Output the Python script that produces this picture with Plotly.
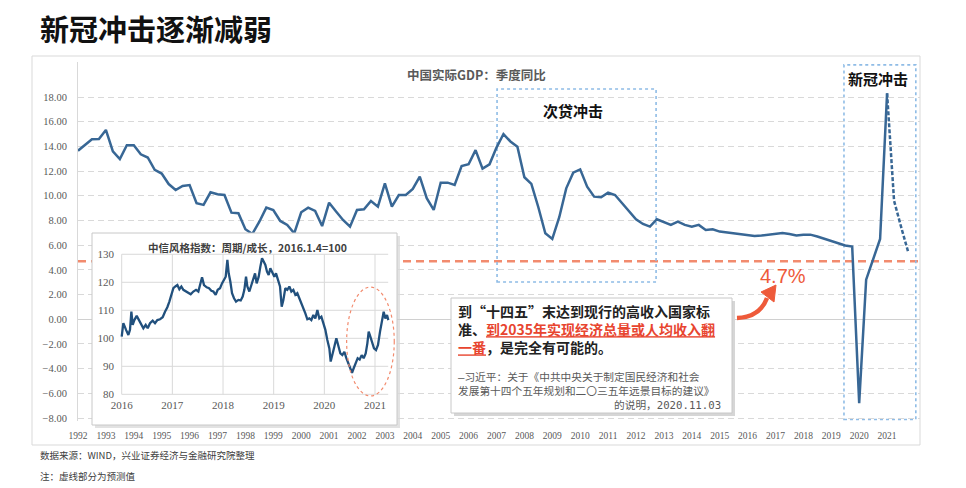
import plotly.graph_objects as go
import pandas as pd

# ---------------- data ----------------
gdp_start_quarter = "1992Q1"
gdp_actual = [
    13.65, 14.1, 14.57, 14.6, 15.33, 13.6, 12.98, 14.1, 14.1, 13.36, 13.1, 12.1,
    11.8, 10.95, 10.47, 10.8, 10.87, 9.4, 9.26, 10.28, 10.12, 10.06, 8.63, 8.58,
    7.29, 6.91, 7.9, 9.04, 8.85, 7.96, 7.64, 6.96, 8.66, 9.04, 8.77, 7.55,
    9.44, 8.72, 8.04, 7.5, 8.85, 8.9, 9.58, 9.12, 11.0, 9.12, 10.06, 10.06,
    10.55, 11.55, 9.8, 8.85, 11.06, 11.06, 10.87, 12.41, 12.55, 13.7, 12.2, 12.55,
    13.9, 15.0, 14.4, 13.98, 11.5, 10.96, 9.07, 6.96, 6.5, 8.26, 10.6, 11.87,
    12.14, 10.74, 9.93, 9.88, 10.25, 10.06, 9.39, 8.8, 8.1, 7.72, 7.5, 8.1,
    7.9, 7.64, 7.9, 7.64, 7.5, 7.64, 7.23, 7.29, 7.1, 7.02, 6.96, 6.85,
    6.83, 6.75, 6.78, 6.85, 6.95, 6.98, 6.9, 6.78, 6.85, 6.85, 6.7, 6.52,
    6.35, 6.15, 5.97, 5.88, -6.8, 3.2, 4.9, 6.5, 18.3,
]
gdp_forecast = [18.3, 9.6, 7.5, 5.5]          # starts at the last actual quarter
year_ticks = list(range(1992, 2022))
gdp_y_ticks = list(range(-8, 19, 2))
target_growth = 4.7

inset_year = [
    2016.0, 2016.033, 2016.086, 2016.132, 2016.164, 2016.191, 2016.217, 2016.25, 2016.296, 2016.342,
    2016.382, 2016.428, 2016.474, 2016.513, 2016.559, 2016.612, 2016.658, 2016.704, 2016.757, 2016.809,
    2016.855, 2016.901, 2016.941, 2016.987, 2017.02, 2017.059, 2017.099, 2017.138, 2017.178, 2017.217,
    2017.27, 2017.316, 2017.362, 2017.414, 2017.467, 2017.513, 2017.546, 2017.586, 2017.625, 2017.678,
    2017.724, 2017.77, 2017.809, 2017.855, 2017.895, 2017.941, 2017.98, 2018.02, 2018.053, 2018.086,
    2018.112, 2018.145, 2018.178, 2018.217, 2018.257, 2018.303, 2018.349, 2018.388, 2018.421, 2018.454,
    2018.48, 2018.52, 2018.559, 2018.599, 2018.632, 2018.664, 2018.704, 2018.737, 2018.77, 2018.803,
    2018.836, 2018.868, 2018.901, 2018.934, 2018.974, 2019.013, 2019.046, 2019.086, 2019.125, 2019.158,
    2019.191, 2019.23, 2019.27, 2019.309, 2019.349, 2019.388, 2019.428, 2019.467, 2019.507, 2019.546,
    2019.586, 2019.625, 2019.664, 2019.704, 2019.743, 2019.783, 2019.822, 2019.862, 2019.901, 2019.941,
    2019.98, 2020.02, 2020.059, 2020.099, 2020.125, 2020.158, 2020.197, 2020.237, 2020.276, 2020.316,
    2020.355, 2020.395, 2020.434, 2020.474, 2020.513, 2020.546, 2020.579, 2020.618, 2020.658, 2020.697,
    2020.737, 2020.776, 2020.816, 2020.849, 2020.875, 2020.908, 2020.941, 2020.98, 2021.02, 2021.059,
    2021.099, 2021.138, 2021.171, 2021.204, 2021.237, 2021.263,
]
inset_value = [
    100.6, 105.4, 103.0, 101.2, 103.0, 109.5, 104.8, 106.5, 108.0, 106.5,
    104.8, 103.6, 104.8, 103.6, 105.4, 106.3, 105.4, 106.5, 106.8, 107.5,
    109.5, 111.1, 113.1, 115.5, 117.9, 118.5, 119.0, 117.5, 118.5, 117.3,
    116.7, 116.1, 115.7, 116.7, 117.3, 116.7, 119.6, 121.8, 119.0, 118.2,
    117.9, 117.0, 116.7, 115.5, 117.3, 117.9, 119.6, 120.8, 122.0, 128.0,
    123.2, 120.2, 116.1, 114.3, 113.1, 113.7, 113.5, 114.9, 117.3, 122.0,
    118.5, 116.7, 119.0, 120.8, 123.2, 119.6, 122.0, 125.6, 128.6, 127.4,
    126.2, 123.8, 122.6, 125.0, 123.2, 122.0, 123.2, 120.8, 118.5, 111.3,
    113.7, 117.9, 117.3, 118.5, 116.7, 117.3, 115.5, 116.1, 114.3, 113.1,
    111.3, 108.9, 106.8, 107.1, 106.5, 108.3, 107.1, 110.1, 107.1, 107.7,
    105.4, 103.0, 99.4, 96.4, 91.7, 94.6, 97.0, 100.0, 97.6, 94.6,
    94.0, 95.2, 92.9, 91.1, 89.3, 87.7, 89.3, 91.1, 92.9, 92.4,
    94.0, 92.9, 94.6, 98.2, 102.4, 100.6, 98.2, 96.4, 95.8, 97.6,
    102.4, 106.5, 109.5, 107.1, 108.3, 106.5,
]
inset_year_ticks = [2016, 2017, 2018, 2019, 2020, 2021]
inset_y_ticks = [80, 90, 100, 110, 120, 130]

# quarterly x positions (decimal years)
n_q = len(gdp_actual) + len(gdp_forecast) - 1
periods = pd.period_range(gdp_start_quarter, periods=n_q, freq="Q")
xq = [p.year + (p.quarter - 1) / 4 for p in periods]
x_actual = xq[:len(gdp_actual)]
x_fc = xq[len(gdp_actual) - 1:]

# ---------------- layout helpers (page pixel -> paper) ----------------
PAGE_OFF = 8                      # default body margin of the html page
W, H = 958, 480
ML, MR, MT, MB = 24, 46, 48, 40
PW, PH = W - ML - MR, H - MT - MB


def px(x):
    return (x - PAGE_OFF - ML) / PW


def py(y):
    return (H - MB - (y - PAGE_OFF)) / PH


CJK = "Noto Sans CJK SC"
SERIF = "Liberation Serif"
LINE_BLUE = "#386795"
RED = "#ee5a3a"
SALMON = "#f28b6e"
BOX_BLUE = "#8fbce6"
GRID = "#d9d9d9"

fig = go.Figure()

fig.add_trace(go.Scatter(x=x_actual, y=gdp_actual, mode="lines",
                         line=dict(color=LINE_BLUE, width=2.5), xaxis="x", yaxis="y",
                         hoverinfo="skip"))
fig.add_trace(go.Scatter(x=x_fc, y=gdp_forecast, mode="lines",
                         line=dict(color=LINE_BLUE, width=2.5, dash="4px,2px"),
                         xaxis="x", yaxis="y", hoverinfo="skip"))
fig.add_trace(go.Scatter(x=inset_year, y=inset_value, mode="lines",
                         line=dict(color="#21507d", width=2.3), xaxis="x2", yaxis="y2",
                         hoverinfo="skip"))

shapes = []
# outer chart frame
shapes.append(dict(type="rect", xref="paper", yref="paper", x0=px(32), x1=px(920),
                   y0=py(445), y1=py(56), line=dict(color=GRID, width=1), layer="below"))
# 4.7% target line
shapes.append(dict(type="line", xref="paper", yref="y", x0=px(78), x1=px(920),
                   y0=target_growth, y1=target_growth,
                   line=dict(color=SALMON, width=2.5, dash="8px,5px"), layer="below"))
# highlight boxes
shapes.append(dict(type="rect", xref="x", yref="y", x0=2007.02, x1=2012.72, y0=3.02, y1=18.65,
                   line=dict(color=BOX_BLUE, width=1.6, dash="dot"), layer="below"))
shapes.append(dict(type="rect", xref="x", yref="y", x0=2019.455, x1=2022.03, y0=-8.12, y1=20.6,
                   line=dict(color=BOX_BLUE, width=1.6, dash="dot"), layer="below"))
# inset shadow
shapes.append(dict(type="rect", xref="paper", yref="paper", x0=px(95), x1=px(400),
                   y0=py(428), y1=py(236), fillcolor="#e2e2e2", line=dict(width=0), layer="below"))
# inset gridlines
for v in inset_y_ticks:
    shapes.append(dict(type="line", xref="x2", yref="y2", x0=inset_year_ticks[0], x1=2021.26,
                       y0=v, y1=v, line=dict(color=GRID, width=1), layer="below"))
for yr in inset_year_ticks:
    shapes.append(dict(type="line", xref="x2", yref="y2", x0=yr, x1=yr,
                       y0=inset_y_ticks[0], y1=inset_y_ticks[-1],
                       line=dict(color=GRID, width=1), layer="below"))
# inset frame
shapes.append(dict(type="rect", xref="paper", yref="paper", x0=px(92), x1=px(397),
                   y0=py(425), y1=py(233), line=dict(color="#c8c8c8", width=1), layer="above"))
# red ellipse on inset
shapes.append(dict(type="circle", xref="x2", yref="y2", x0=2020.44, x1=2021.38, y0=79.4, y1=118.3,
                   line=dict(color=SALMON, width=1.2, dash="dot"), layer="above"))
# quote box
shapes.append(dict(type="rect", xref="paper", yref="paper", x0=px(454), x1=px(735),
                   y0=py(416), y1=py(301), fillcolor="#d6d6d6", line=dict(width=0), layer="above"))
shapes.append(dict(type="rect", xref="paper", yref="paper", x0=px(451), x1=px(732),
                   y0=py(413), y1=py(298), fillcolor="white",
                   line=dict(color="#c8c8c8", width=1), layer="above"))
# curved arrow
shapes.append(dict(type="path", xref="paper", yref="paper",
                   path=f"M {px(737)},{py(318)} Q {px(760)},{py(317)} {px(767)},{py(298)}",
                   line=dict(color=RED, width=4.5), layer="above"))
shapes.append(dict(type="path", xref="paper", yref="paper",
                   path=f"M {px(776)},{py(285)} L {px(761)},{py(292)} L {px(774)},{py(302)} Z",
                   fillcolor=RED, line=dict(color=RED, width=1), layer="above"))

annotations = []
annotations.append(dict(xref="paper", yref="paper", x=px(38), y=py(28), xanchor="left",
                        yanchor="middle", showarrow=False, text="<b>新冠冲击逐渐减弱</b>",
                        font=dict(family=CJK, size=29, color="#111111")))
annotations.append(dict(xref="paper", yref="paper", x=px(476), y=py(75), xanchor="center",
                        yanchor="middle", showarrow=False, text="<b>中国实际GDP：季度同比</b>",
                        font=dict(family=CJK, size=12.5, color="#595959")))
annotations.append(dict(xref="paper", yref="paper", x=px(573), y=py(110), xanchor="center",
                        yanchor="middle", showarrow=False, text="<b>次贷冲击</b>",
                        font=dict(family=CJK, size=15, color="#111111")))
annotations.append(dict(xref="paper", yref="paper", x=px(878), y=py(78), xanchor="center",
                        yanchor="middle", showarrow=False, text="<b>新冠冲击</b>",
                        font=dict(family=CJK, size=15, color="#111111")))
annotations.append(dict(xref="paper", yref="paper", x=px(783), y=py(276), xanchor="center",
                        yanchor="middle", showarrow=False, text="4.7%",
                        font=dict(family="Liberation Sans", size=20, color=RED)))
annotations.append(dict(xref="paper", yref="paper", x=px(247), y=py(247), xanchor="center",
                        yanchor="middle", showarrow=False,
                        text="<b>中信风格指数：周期/成长，2016.1.4=100</b>",
                        font=dict(family=CJK, size=10.5, color="#404040")))
quote_main = ("到“十四五”末达到现行的高收入国家标<br>"
              "准、<span style='color:#e8452f'><u>到2035年实现经济总量或人均收入翻</u></span><br>"
              "<span style='color:#e8452f'><u>一番</u></span>，是完全有可能的。")
annotations.append(dict(xref="paper", yref="paper", x=px(456), y=py(299), xanchor="left",
                        yanchor="top", align="left", showarrow=False, text="<b>" + quote_main + "</b>",
                        font=dict(family=CJK, size=14, color="#222222")))
quote_src = ("—习近平：关于《中共中央关于制定国民经济和社会<br>"
             "发展第十四个五年规划和二〇三五年远景目标的建议》")
annotations.append(dict(xref="paper", yref="paper", x=px(456), y=py(369), xanchor="left",
                        yanchor="top", align="left", showarrow=False, text=quote_src,
                        font=dict(family="DejaVu Sans Mono, " + CJK, size=10.7, color="#595959")))
annotations.append(dict(xref="paper", yref="paper", x=px(723), y=py(405), xanchor="right",
                        yanchor="middle", align="right", showarrow=False, text="的说明，2020.11.03",
                        font=dict(family="DejaVu Sans Mono, " + CJK, size=10.7, color="#595959")))
annotations.append(dict(xref="paper", yref="paper", x=px(38), y=py(455), xanchor="left",
                        yanchor="middle", showarrow=False, text="数据来源：WIND，兴业证券经济与金融研究院整理",
                        font=dict(family=CJK, size=9.5, color="#404040")))
annotations.append(dict(xref="paper", yref="paper", x=px(38), y=py(476), xanchor="left",
                        yanchor="middle", showarrow=False, text="注：虚线部分为预测值",
                        font=dict(family=CJK, size=9.5, color="#404040")))

fig.update_layout(
    width=W, height=H,
    margin=dict(l=ML, r=MR, t=MT, b=MB, pad=0),
    paper_bgcolor="white", plot_bgcolor="white",
    showlegend=False,
    shapes=shapes, annotations=annotations,
    xaxis=dict(domain=[px(78), px(920)], range=[1992.0, 2022.18], anchor="y",
               tickmode="array", tickvals=year_ticks, ticktext=[str(y) for y in year_ticks],
               tickangle=0, showgrid=False, zeroline=False, showline=False, ticks="",
               ticklabelstandoff=7,
               tickfont=dict(family=SERIF, size=9.5, color="#595959")),
    yaxis=dict(domain=[py(421), py(62)], range=[-8.243, 20.835], anchor="x",
               tickmode="array", tickvals=gdp_y_ticks, tickformat=".2f",
               showgrid=True, gridcolor=GRID, gridwidth=1, griddash="6px,4px",
               zeroline=True, zerolinecolor="#d0d0d0", zerolinewidth=1,
               showline=True, linecolor=GRID, linewidth=1, ticks="",
               ticklabelstandoff=8,
               tickfont=dict(family=SERIF, size=10.5, color="#595959")),
    xaxis2=dict(domain=[px(92), px(397)], range=[2015.414, 2021.434], anchor="free",
                position=py(394), tickmode="array", tickvals=inset_year_ticks,
                ticktext=[str(y) for y in inset_year_ticks],
                showgrid=False, zeroline=False, showline=False, ticks="",
                ticklabelstandoff=3,
                tickfont=dict(family=SERIF, size=11, color="#595959")),
    yaxis2=dict(domain=[py(425), py(233)], range=[69.04, 137.6], anchor="free",
                position=px(122), tickmode="array", tickvals=inset_y_ticks,
                showgrid=False, zeroline=False, showline=False, ticks="",
                ticklabelstandoff=8,
                tickfont=dict(family=SERIF, size=11, color="#595959")),
)

fig.write_html("out.html")
